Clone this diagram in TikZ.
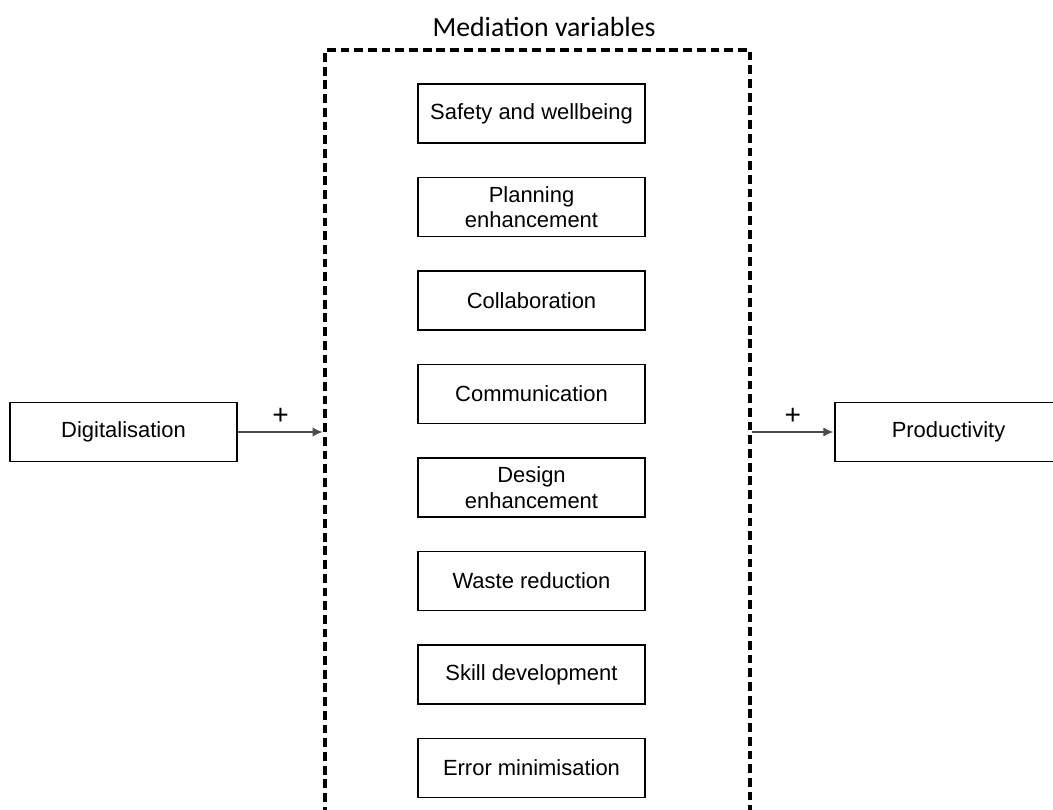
\documentclass[tikz,border=0pt]{standalone}
\usepackage{fontspec}
\setmainfont{Liberation Sans}
\newfontfamily\titlefont{Carlito}
\usetikzlibrary{arrows.meta,positioning}

\begin{document}
\begin{tikzpicture}[x=0.02cm, y=-0.02cm, align=center,
  factor/.style={draw, line width=1.1pt, minimum width=227*0.02cm, minimum height=59*0.02cm, inner sep=0pt, font=\fontsize{12.5}{14.5}\selectfont},
  link/.style={draw=black!70, line width=0.6pt, -{Latex[length=2mm,width=1.8mm]}, shorten >=0.4pt}]
\useasboundingbox (0,0) rectangle (1053,810);

\node (med) [draw, line width=1.9pt, dash pattern=on 5pt off 2.8pt, minimum width=425*0.02cm, minimum height=764*0.02cm, inner sep=0pt] at (537.5,432) {};
\node (medtitle) [font=\titlefont\fontsize{15.8}{18}\selectfont] at (544,27) {Mediation variables};

\node (safety) [factor] at (531.5,113.5) {Safety and wellbeing};
\node (planning) [factor] at (531.5,207) {Planning\\enhancement};
\node (collab) [factor] at (531.5,300.5) {Collaboration};
\node (comm) [factor] at (531.5,394) {Communication};
\node (design) [factor] at (531.5,487.5) {Design\\enhancement};
\node (waste) [factor] at (531.5,581) {Waste reduction};
\node (skill) [factor] at (531.5,674.5) {Skill development};
\node (error) [factor] at (531.5,768) {Error minimisation};

% -------------------------------

\node (digit) [factor] at (123.5,432) {Digitalisation};
\node (prod) [factor] at (948.5,432) {Productivity};

\draw[link] (digit) -- node[above=0.5pt, font=\fontsize{16}{18}\selectfont] {+} (med);
\draw[link] (med) -- node[above=0.5pt, font=\fontsize{16}{18}\selectfont] {+} (prod);
\end{tikzpicture}
\end{document}
